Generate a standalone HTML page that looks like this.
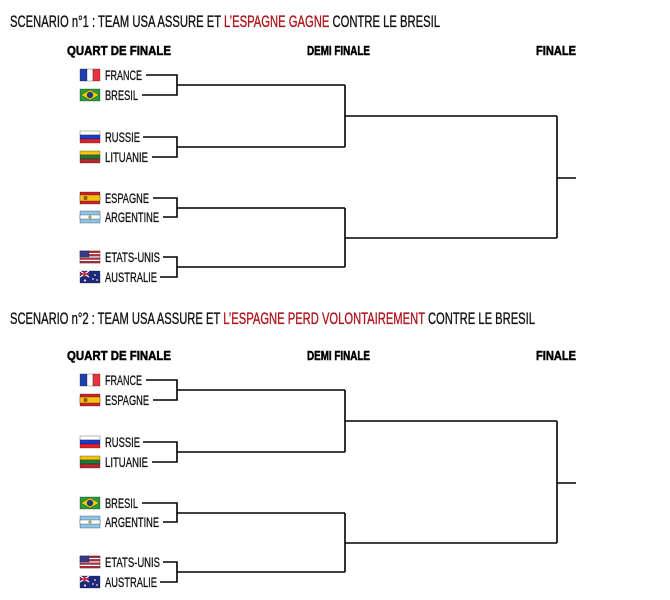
<!DOCTYPE html>
<html><head><meta charset="utf-8"><style>html,body{margin:0;padding:0;background:#fff}svg{display:block}</style></head>
<body>
<svg width="670" height="600" viewBox="0 0 670 600" xmlns="http://www.w3.org/2000/svg" font-family="Liberation Sans, sans-serif">
<defs>
<g id="fr"><rect x="0" y="0" width="7" height="12" fill="#1f3fb0"/><rect x="7" y="0" width="6" height="12" fill="#fff"/><rect x="13" y="0" width="7" height="12" fill="#e8343c"/></g>
<g id="br"><rect width="20" height="12" fill="#2a9b3a"/><polygon points="10,1 19,6 10,11 1,6" fill="#f2d20a"/><circle cx="10" cy="6" r="3" fill="#1c3a8a"/></g>
<g id="ru"><rect width="20" height="4" fill="#fff"/><rect y="4" width="20" height="4" fill="#1c3ad0"/><rect y="8" width="20" height="4" fill="#e0202a"/></g>
<g id="lt"><rect width="20" height="4" fill="#f2c40c"/><rect y="4" width="20" height="4" fill="#1f7a3a"/><rect y="8" width="20" height="4" fill="#b8282e"/></g>
<g id="es"><rect width="20" height="12" fill="#d0202a"/><rect y="3" width="20" height="6" fill="#f2c40c"/><rect x="4" y="4.5" width="3" height="3" fill="#b05020"/></g>
<g id="ar"><rect width="20" height="12" fill="#8cc4ea"/><rect y="4" width="20" height="4" fill="#fff"/><circle cx="10" cy="6" r="1.3" fill="#e8b820"/></g>
<g id="us"><rect width="20" height="12" fill="#fff"/><rect y="0" width="20" height="1.7" fill="#c8283a"/><rect y="3.4" width="20" height="1.7" fill="#c8283a"/><rect y="6.8" width="20" height="1.7" fill="#c8283a"/><rect y="10.2" width="20" height="1.8" fill="#c8283a"/><rect width="9" height="6" fill="#3a3a8a"/></g>
<g id="au"><rect width="20" height="12" fill="#1c2a80"/><path d="M0 0L9 6M9 0L0 6" stroke="#fff" stroke-width="1.2"/><path d="M4.5 0V6M0 3H9" stroke="#d02030" stroke-width="1.4"/><circle cx="15" cy="4" r="1" fill="#fff"/><circle cx="13" cy="8" r="1" fill="#fff"/><circle cx="17" cy="9" r="1" fill="#fff"/><circle cx="5" cy="9.5" r="1.2" fill="#fff"/></g>
</defs>

<g stroke-width="0.35">
<text x="10" y="27" font-size="17" textLength="430" lengthAdjust="spacingAndGlyphs" fill="#111" stroke="#111">SCENARIO n°1 : TEAM USA ASSURE ET <tspan fill="#b0141c" stroke="#b0141c">L’ESPAGNE GAGNE</tspan> CONTRE LE BRESIL</text>
<text x="10" y="324" font-size="17" textLength="525" lengthAdjust="spacingAndGlyphs" fill="#111" stroke="#111">SCENARIO n°2 : TEAM USA ASSURE ET <tspan fill="#b0141c" stroke="#b0141c">L’ESPAGNE PERD VOLONTAIREMENT</tspan> CONTRE LE BRESIL</text>
</g>

<g font-weight="bold" font-size="12.5" fill="#000" stroke="#000" stroke-width="0.5">
<text x="67" y="55" textLength="104" lengthAdjust="spacingAndGlyphs">QUART DE FINALE</text>
<text x="307" y="55" textLength="63" lengthAdjust="spacingAndGlyphs">DEMI FINALE</text>
<text x="536" y="55" textLength="40" lengthAdjust="spacingAndGlyphs">FINALE</text>
<text x="67" y="360" textLength="104" lengthAdjust="spacingAndGlyphs">QUART DE FINALE</text>
<text x="307" y="360" textLength="63" lengthAdjust="spacingAndGlyphs">DEMI FINALE</text>
<text x="536" y="360" textLength="40" lengthAdjust="spacingAndGlyphs">FINALE</text>
</g>

<g font-size="14" fill="#111" stroke="#111" stroke-width="0.3">
<use href="#fr" x="80" y="69"/><text x="105" y="80" textLength="37" lengthAdjust="spacingAndGlyphs">FRANCE</text>
<use href="#br" x="80" y="89"/><text x="105" y="100" textLength="33" lengthAdjust="spacingAndGlyphs">BRESIL</text>
<use href="#ru" x="80" y="131"/><text x="105" y="142" textLength="35" lengthAdjust="spacingAndGlyphs">RUSSIE</text>
<use href="#lt" x="80" y="151"/><text x="105" y="162" textLength="43" lengthAdjust="spacingAndGlyphs">LITUANIE</text>
<use href="#es" x="80" y="192"/><text x="105" y="203" textLength="44" lengthAdjust="spacingAndGlyphs">ESPAGNE</text>
<use href="#ar" x="80" y="211"/><text x="105" y="222" textLength="54" lengthAdjust="spacingAndGlyphs">ARGENTINE</text>
<use href="#us" x="80" y="251"/><text x="105" y="262" textLength="55" lengthAdjust="spacingAndGlyphs">ETATS-UNIS</text>
<use href="#au" x="80" y="271"/><text x="105" y="282" textLength="52" lengthAdjust="spacingAndGlyphs">AUSTRALIE</text>

<use href="#fr" x="80" y="374"/><text x="105" y="385" textLength="37" lengthAdjust="spacingAndGlyphs">FRANCE</text>
<use href="#es" x="80" y="394"/><text x="105" y="405" textLength="44" lengthAdjust="spacingAndGlyphs">ESPAGNE</text>
<use href="#ru" x="80" y="436"/><text x="105" y="447" textLength="35" lengthAdjust="spacingAndGlyphs">RUSSIE</text>
<use href="#lt" x="80" y="456"/><text x="105" y="467" textLength="43" lengthAdjust="spacingAndGlyphs">LITUANIE</text>
<use href="#br" x="80" y="497"/><text x="105" y="508" textLength="33" lengthAdjust="spacingAndGlyphs">BRESIL</text>
<use href="#ar" x="80" y="516"/><text x="105" y="527" textLength="54" lengthAdjust="spacingAndGlyphs">ARGENTINE</text>
<use href="#us" x="80" y="556"/><text x="105" y="567" textLength="55" lengthAdjust="spacingAndGlyphs">ETATS-UNIS</text>
<use href="#au" x="80" y="576"/><text x="105" y="587" textLength="52" lengthAdjust="spacingAndGlyphs">AUSTRALIE</text>
</g>

<g stroke="#000" stroke-width="1.6" fill="none">
<path d="M146 75H177V95H142M177 85H345"/>
<path d="M143 137H177V157H152M177 147H345"/>
<path d="M153 198H177V217H163M177 208H345"/>
<path d="M163 257H177V277H160M177 267H345"/>
<path d="M345 85V147M345 116H557"/>
<path d="M345 208V267M345 238H557"/>
<path d="M557 116V238M557 178H576"/>
<g transform="translate(0,305)">
<path d="M146 75H177V95H153M177 85H345"/>
<path d="M143 137H177V157H152M177 147H345"/>
<path d="M142 198H177V217H163M177 208H345"/>
<path d="M163 257H177V277H160M177 267H345"/>
<path d="M345 85V147M345 116H557"/>
<path d="M345 208V267M345 238H557"/>
<path d="M557 116V238M557 178H576"/>
</g>
</g>
</svg>
</body></html>
